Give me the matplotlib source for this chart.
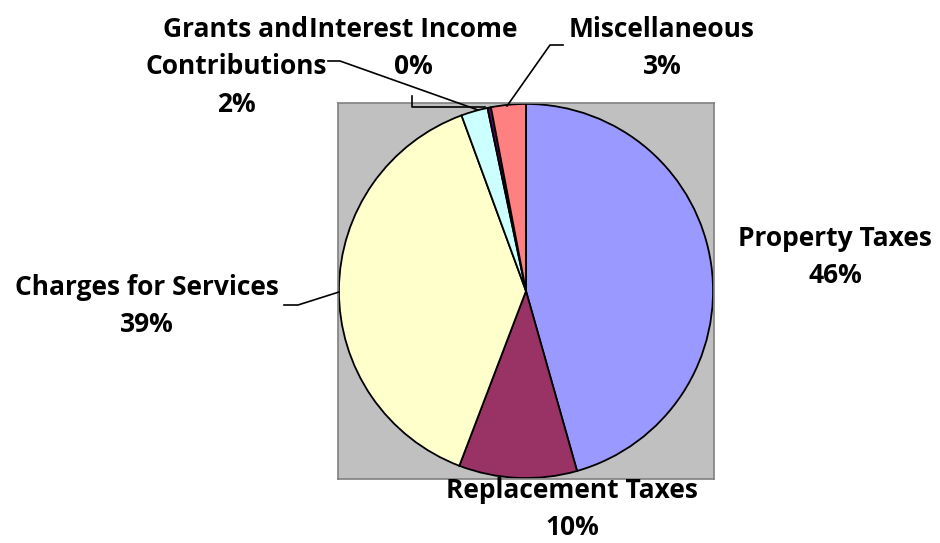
import numpy as np
import matplotlib.pyplot as plt

plt.rcParams['font.family'] = ['Open Sans', 'DejaVu Sans']

# revenue shares (%)
categories = ['Property Taxes', 'Replacement Taxes', 'Charges for Services',
              'Grants and\nContributions', 'Interest Income', 'Miscellaneous']
values = [45.6, 10.2, 38.6, 2.3, 0.3, 3.0]
colors = ['#9999FF', '#993366', '#FFFFCC', '#CCFFFF', '#660066', '#FF8080']

W, H = 940, 543
fig = plt.figure(figsize=(W / 100, H / 100), dpi=100)
ax = fig.add_axes([338 / W, (H - 479) / H, 376 / W, 376 / H])

wedges, _ = ax.pie(values, colors=colors, startangle=90, counterclock=False,
                   radius=0.995, frame=True,
                   wedgeprops=dict(edgecolor='black', linewidth=1.3))
ax.set_facecolor('#C0C0C0')
for s in ax.spines.values():
    s.set_color('#808080')
    s.set_linewidth(1.2)
ax.set_xticks([])
ax.set_yticks([])
ax.set_xlim(-1, 1)
ax.set_ylim(-1, 1)
ax.set_aspect('equal')


def px(x, y):
    # figure pixel coords (top-left origin) -> figure fraction
    return x / W, 1 - y / H


# label centres in pixels and leader lines
label_pos = [(835, 257), (572, 509), (147, 306), (236, 67), (413, 48), (662, 48)]
pcts = ['%.0f%%' % v for v in values]
for name, pct, (x, y) in zip(categories, pcts, label_pos):
    fig.text(*px(x, y), name + '\n' + pct, ha='center', va='center',
             fontsize=19, fontweight='bold', linespacing=1.5)

leaders = [
    [(284, 305), (298, 305), (339, 292)],          # charges
    [(328, 61), (340, 61), (478, 110)],            # grants
    [(412, 96), (412, 107), (485, 107)],           # interest
    [(563, 45), (550, 45), (507, 106)],            # misc
]
for pts in leaders:
    xs = [px(a, b)[0] for a, b in pts]
    ys = [px(a, b)[1] for a, b in pts]
    fig.add_artist(plt.Line2D(xs, ys, color='black', linewidth=1.2))

plt.savefig('out.png', dpi=100)
